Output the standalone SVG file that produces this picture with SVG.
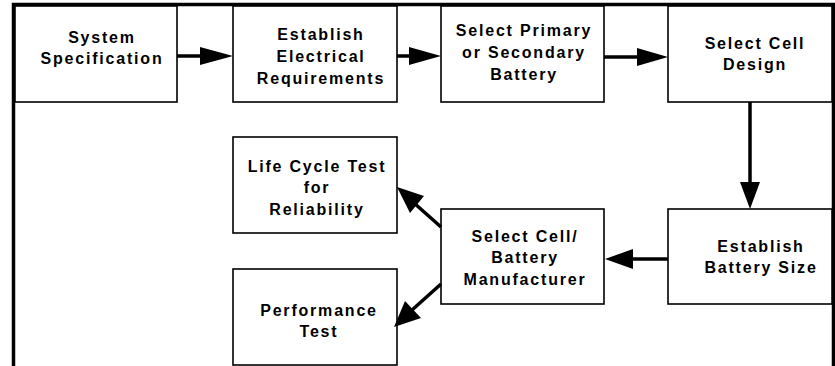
<svg xmlns="http://www.w3.org/2000/svg" width="835" height="366" viewBox="0 0 835 366">
<style>
.box{fill:#fff;stroke:#000;stroke-width:1.6}
.frame{fill:none;stroke:#000;stroke-width:3.5}
.t{font-family:"Liberation Sans",Arial,sans-serif;font-weight:bold;font-size:16px;letter-spacing:1.8px;text-anchor:middle;fill:#000}
.ln{stroke:#000;stroke-width:3.5;fill:none}
.hd{fill:#000;stroke:none}
</style>
<rect width="835" height="366" fill="#fff"/>
<path class="frame" d="M13.5,366 V4.5 H833.5 V366"/>
<g id="n1"><rect class="box" x="15" y="6" width="162" height="96"/>
<text class="t" x="102" y="43">System</text><text class="t" x="102" y="64">Specification</text></g>
<g id="n2"><rect class="box" x="233" y="6" width="164" height="96"/>
<text class="t" x="321" y="40">Establish</text><text class="t" x="321" y="62">Electrical</text><text class="t" x="321" y="84">Requirements</text></g>
<g id="n3"><rect class="box" x="441" y="6" width="163" height="96"/>
<text class="t" x="524" y="36">Select Primary</text><text class="t" x="524" y="58">or Secondary</text><text class="t" x="524" y="80">Battery</text></g>
<g id="n4"><rect class="box" x="668" y="6" width="164" height="96"/>
<text class="t" x="755" y="49">Select Cell</text><text class="t" x="755" y="70">Design</text></g>
<g id="n5"><rect class="box" x="668" y="209" width="164" height="95"/>
<text class="t" x="761" y="252">Establish</text><text class="t" x="761" y="273">Battery Size</text></g>
<g id="n6"><rect class="box" x="441" y="209" width="163" height="95"/>
<text class="t" x="525" y="242">Select Cell/</text><text class="t" x="525" y="263">Battery</text><text class="t" x="525" y="285">Manufacturer</text></g>
<g id="n7"><rect class="box" x="233" y="137" width="164" height="96"/>
<text class="t" x="317" y="172">Life Cycle Test</text><text class="t" x="317" y="193">for</text><text class="t" x="317" y="215">Reliability</text></g>
<g id="n8"><rect class="box" x="233" y="269" width="164" height="96"/>
<text class="t" x="319" y="316">Performance</text><text class="t" x="319" y="337">Test</text></g>
<g id="connectors">
<line class="ln" x1="177" y1="56" x2="203" y2="56"/><polygon class="hd" points="200,47 233,56 200,65"/>
<line class="ln" x1="397" y1="56" x2="412" y2="56"/><polygon class="hd" points="409,47 441,56 409,65"/>
<line class="ln" x1="604" y1="57" x2="640" y2="57"/><polygon class="hd" points="637,48 668,57 637,66"/>
<line class="ln" x1="750" y1="102" x2="750" y2="185"/><polygon class="hd" points="740,182 750,209 760,182"/>
<line class="ln" x1="668" y1="259" x2="630" y2="259"/><polygon class="hd" points="633,249 605,259 633,269"/>
<line class="ln" x1="441" y1="227" x2="414" y2="203"/><polygon class="hd" points="397,187 424,196 410,213"/>
<line class="ln" x1="441" y1="284" x2="412" y2="310"/><polygon class="hd" points="394,327 405,301 421,318"/>
</g>
</svg>
